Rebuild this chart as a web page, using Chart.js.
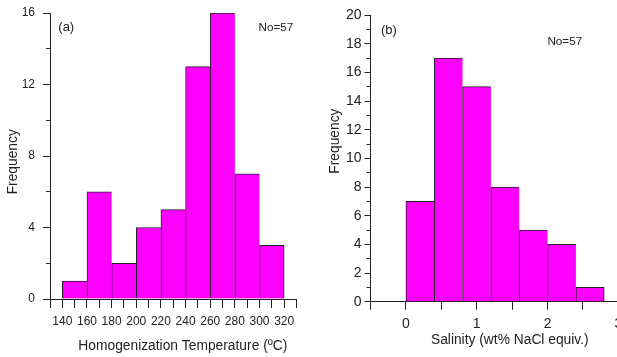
<!DOCTYPE html>
<html>
<head>
<title>Homogenization temperature and salinity histograms</title>
<style>
    html, body {
        margin: 0;
        padding: 0;
        overflow: hidden;
        background: #fff;
    }
    body {
        width: 617px;
        height: 357px;
        position: relative;
    }
    canvas {
        position: absolute;
        top: 0;
    }
    #tempChart { left: 0; }
    #salinityChart { left: 310px; }
</style>
<script src="https://cdn.jsdelivr.net/npm/chart.js"></script>
</head>
<body>
<canvas id="tempChart" width="310" height="357"></canvas>
<canvas id="salinityChart" width="330" height="357"></canvas>
<script>
// (a) homogenization temperature, 20 degree bins
const tempBinCenters = [150, 170, 190, 210, 230, 250, 270, 290, 310];
const tempCounts = [1, 6, 2, 4, 5, 13, 16, 7, 3];
const tempTickLabels = [140, 160, 180, 200, 220, 240, 260, 280, 300, 320];
const tempFreqLabels = [0, 4, 8, 12, 16];

// (b) salinity, 0.4 wt% bins
const salinityBinCenters = [0.2, 0.6, 1.0, 1.4, 1.8, 2.2, 2.6];
const salinityCounts = [7, 17, 15, 8, 5, 4, 1];
const salinityTickLabels = [0, 1, 2, 3];
const salinityFreqLabels = [0, 2, 4, 6, 8, 10, 12, 14, 16, 18, 20];

const INK = '#222';
const MAGENTA = '#ff00ff';
const SANS = "'Liberation Sans', Arial, sans-serif";

// small text inside the plot: panel tag and sample count
const panelText = {
    id: 'panelText',
    afterDraw(chart, args, opts) {
        const { ctx, chartArea } = chart;
        ctx.save();
        ctx.fillStyle = INK;
        ctx.textAlign = 'left';
        ctx.textBaseline = 'middle';
        (opts.items || []).forEach(it => {
            ctx.font = it.font;
            const x = it.fromRight ? chartArea.right + it.dx : chartArea.left + it.dx;
            ctx.fillText(it.text, x, chartArea.top + it.dy);
        });
        ctx.restore();
    }
};

function hasLabel(list, v) {
    return list.some(l => Math.abs(l - v) < 1e-6);
}

function histogram(id, o) {
    const last = o.counts.length - 1;
    return new Chart(document.getElementById(id), {
        type: 'bar',
        data: {
            datasets: [{
                data: o.centers.map((c, i) => ({ x: c, y: o.counts[i] })),
                backgroundColor: MAGENTA,
                borderColor: INK,
                borderWidth: ctx => ({ top: 1, left: 1, right: ctx.dataIndex === last ? 1 : 0, bottom: 0 }),
                barThickness: 'flex',
                categoryPercentage: 1,
                barPercentage: 1
            }]
        },
        options: {
            responsive: false,
            animation: false,
            devicePixelRatio: 1,
            layout: { padding: o.padding },
            plugins: {
                legend: { display: false },
                tooltip: { enabled: false },
                panelText: { items: o.notes }
            },
            scales: {
                x: {
                    type: 'linear',
                    min: o.xMin,
                    max: o.xMax,
                    offset: false,
                    grid: { offset: false, drawOnChartArea: false, tickLength: o.xTick, tickColor: INK },
                    border: { color: INK },
                    ticks: {
                        stepSize: o.xStep,
                        autoSkip: false,
                        maxRotation: 0,
                        padding: o.xPad,
                        color: INK,
                        font: o.xTickFont,
                        callback: v => hasLabel(o.xLabels, v) ? String(v) : ''
                    },
                    title: {
                        display: true,
                        text: o.xTitle,
                        color: INK,
                        font: o.titleFont,
                        padding: { top: 0, bottom: o.xTitlePad }
                    },
                    afterFit: s => { s.height = o.xHeight; s.paddingLeft = 0; s.paddingRight = 0; }
                },
                y: {
                    position: 'left',
                    weight: 1,
                    min: 0,
                    max: o.yMax,
                    grid: { drawOnChartArea: false, tickLength: o.yTick, tickColor: INK },
                    border: { color: INK },
                    ticks: {
                        stepSize: o.yStep,
                        autoSkip: false,
                        padding: o.yPad,
                        color: INK,
                        font: o.yTickFont,
                        callback: v => hasLabel(o.yLabels, v) ? String(v) : ''
                    },
                    title: {
                        display: true,
                        text: o.yTitle,
                        color: INK,
                        font: o.titleFont,
                        padding: { top: o.yTitlePad, bottom: 0 }
                    },
                    afterFit: s => { s.width = o.yWidth; s.paddingTop = 0; s.paddingBottom = 0; }
                },
                yMinor: {
                    position: 'left',
                    weight: 0,
                    min: 0,
                    max: o.yMax,
                    grid: { drawOnChartArea: false, tickLength: o.yMinorTick, tickColor: INK },
                    border: { display: false },
                    ticks: { stepSize: o.yMinorStep, display: false },
                    afterFit: s => { s.width = 0; s.paddingTop = 0; s.paddingBottom = 0; }
                }
            }
        },
        plugins: [panelText]
    });
}

histogram('tempChart', {
    centers: tempBinCenters,
    counts: tempCounts,
    xMin: 130, xMax: 330, xStep: 10, xLabels: tempTickLabels,
    yMax: 16, yStep: 4, yMinorStep: 2, yLabels: tempFreqLabels,
    xTitle: '     Homogenization Temperature (\u00baC)',
    yTitle: 'Frequency   ',
    xTickFont: { family: SANS, size: 12 },
    yTickFont: { family: SANS, size: 12 },
    titleFont: { family: SANS, size: 13.8 },
    padding: { top: 13, right: 13.5, bottom: 0, left: 0 },
    xHeight: 58, yWidth: 50,
    xTick: 9, xPad: 6, xTitlePad: 2.2,
    yTick: 7, yMinorTick: 4, yPad: 8, yTitlePad: 4.7,
    notes: [
        { text: '(a)', dx: 8.3, dy: 14, font: '13px ' + SANS },
        { text: 'No=57', dx: -38, dy: 15, fromRight: true, font: '11.7px ' + SANS }
    ]
});

histogram('salinityChart', {
    centers: salinityBinCenters,
    counts: salinityCounts,
    xMin: -0.5, xMax: 3, xStep: 0.5, xLabels: salinityTickLabels,
    yMax: 20, yStep: 2, yMinorStep: 1, yLabels: salinityFreqLabels,
    xTitle: '        Salinity (wt% NaCl equiv.)',
    yTitle: '         Frequency',
    xTickFont: { family: SANS, size: 14 },
    yTickFont: { family: SANS, size: 14 },
    titleFont: { family: SANS, size: 13.8 },
    padding: { top: 15, right: 21.6, bottom: 0, left: 0 },
    xHeight: 55.3, yWidth: 60.5,
    xTick: 8, xPad: 5.6, xTitlePad: 8.4,
    yTick: 6, yMinorTick: 4, yPad: 3, yTitlePad: 17.2,
    notes: [
        { text: '(b)', dx: 10.5, dy: 15, font: '13px ' + SANS },
        { text: 'No=57', dx: -71, dy: 27, fromRight: true, font: '11.7px ' + SANS }
    ]
});
</script>
</body>
</html>
